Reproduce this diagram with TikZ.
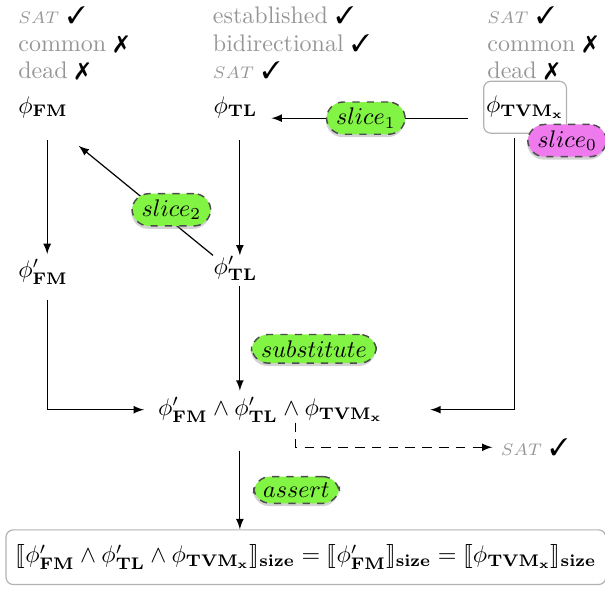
\documentclass[tikz,border=0pt]{standalone}
\usepackage{amsmath}
\usepackage{amssymb}
\usepackage{stmaryrd}
\usepackage{pifont}
\usepackage{tikz}
\usetikzlibrary{arrows}
\usetikzlibrary{shadows}
\usetikzlibrary{positioning}
\definecolor{mgreen}{RGB}{130, 244, 68}
\definecolor{mpink}{RGB}{238, 122, 238}
\definecolor{mgray}{RGB}{150, 150, 150}
\newcommand{\yes}{\textcolor{black}{\ding{51}}}
\newcommand{\no}{\textcolor{black}{\ding{55}}}
\newcommand{\sat}{{\scriptsize$SAT$}}

\tikzset{
  status/.style={anchor=north west, align=left, inner sep=0pt, text=mgray},
  term/.style={inner sep=0pt},
  slicebox/.style={draw=black!70, dashed, line width=0.6pt, fill=mgreen, rounded corners=7pt,
    inner xsep=4pt, inner ysep=2.5pt,
    drop shadow={shadow xshift=-0.3pt, shadow yshift=-1.2pt, opacity=0.35}},
  framebox/.style={draw=black!30, rounded corners=3pt},
}

\begin{document}
\begin{tikzpicture}[line width=0.5pt]
      \useasboundingbox (0, 0) rectangle (8.86, -8.63);

      \node [status] (stfm) at (0.26, -0.09) {\sat\ \yes\\[-0.6pt] common \no\\[-0.6pt] dead \no};
      \node [status] (sttl) at (3.11, -0.09) {established \yes\\[-0.6pt] bidirectional \yes\\[-0.6pt] \sat\ \yes};
      \node [status] (sttvm) at (7.13, -0.09) {\sat\ \yes\\[-0.6pt] common \no\\[-0.6pt] dead \no};

      \node [term, anchor=west] (fm) at (0.26, -1.57) {$\phi_{\mathbf{FM}}$};
      \node [term, anchor=west] (tl) at (3.12, -1.57) {$\phi_{\mathbf{TL}}$};
      \node [framebox, inner sep=1pt, minimum width=1.2cm, minimum height=0.76cm] (tvm) at (7.69, -1.57) {$\phi_{\mathbf{TVM_x}}$};
      \node [slicebox, fill=mpink] (s0) at ([yshift=-0.1cm]tvm.south east) {$slice_0$};

      \node [term, anchor=west] (fmp) at (0.26, -3.98) {$\phi'_{\mathbf{FM}}$};
      \node [term, anchor=west] (tlp) at (3.12, -3.93) {$\phi'_{\mathbf{TL}}$};
      \node [term] (conj) at (3.96, -6.0) {$\phi'_{\mathbf{FM}} \wedge \phi'_{\mathbf{TL}} \wedge \phi_{\mathbf{TVM_x}}$};
      \node [anchor=west, text=mgray] (satb) at (7.21, -6.55) {\sat\ \yes};
      \node [framebox, inner xsep=4pt, minimum height=0.8cm] (res) at (4.48, -8.16)
        {$\llbracket \phi'_{\mathbf{FM}} \wedge \phi'_{\mathbf{TL}} \wedge \phi_{\mathbf{TVM_x}} \rrbracket_{\mathbf{size}}
          = \llbracket \phi'_{\mathbf{FM}} \rrbracket_{\mathbf{size}} = \llbracket \phi_{\mathbf{TVM_x}} \rrbracket_{\mathbf{size}}$};

      % slicing
      \draw [-latex] ([shift={(-0.22, -0.16)}]tvm.west) -- node [slicebox, pos=0.52] (s1) {$slice_1$} ([shift={(0.2, -0.16)}]tl.east);
      \draw [-latex] ([shift={(0.06, -0.32)}]fm.south) -- ([shift={(0.06, 0.07)}]fm.south |- fmp.north);
      \draw [-latex] ([shift={(0.065, -0.32)}]tl.south) -- ([xshift=0.065cm]tl.south |- tlp.north);
      \draw [-latex] (tlp.north west) -- node [slicebox, pos=0.31, yshift=0.17cm] (s2) {$slice_2$} ([shift={(0.15, -0.4)}]fm.south east);

      % conjunction
      \draw [-latex] ([shift={(0.06, -0.22)}]fmp.south) |- ([xshift=-0.2cm]conj.west);
      \draw [-latex] ([shift={(0.065, -0.07)}]tl.south |- tlp.south) -- node [slicebox, pos=0.6, anchor=west, xshift=0.16cm] (sub) {$substitute$} ([shift={(0.065, 0.09)}]tl.south |- conj.north);
      \draw [-latex] ([shift={(-0.15, -0.06)}]tvm.south) |- ([xshift=0.69cm]conj.east);
      \draw [-latex, dash pattern=on 4pt off 3pt] ([xshift=0.37cm]conj.south) |- (satb.west);
      \draw [-latex] ([shift={(0.065, -0.41)}]tl.south |- conj.south) -- node [slicebox, anchor=west, xshift=0.19cm] (as) {$assert$} ([xshift=0.065cm]tl.south |- res.north);
    \end{tikzpicture}
\end{document}
